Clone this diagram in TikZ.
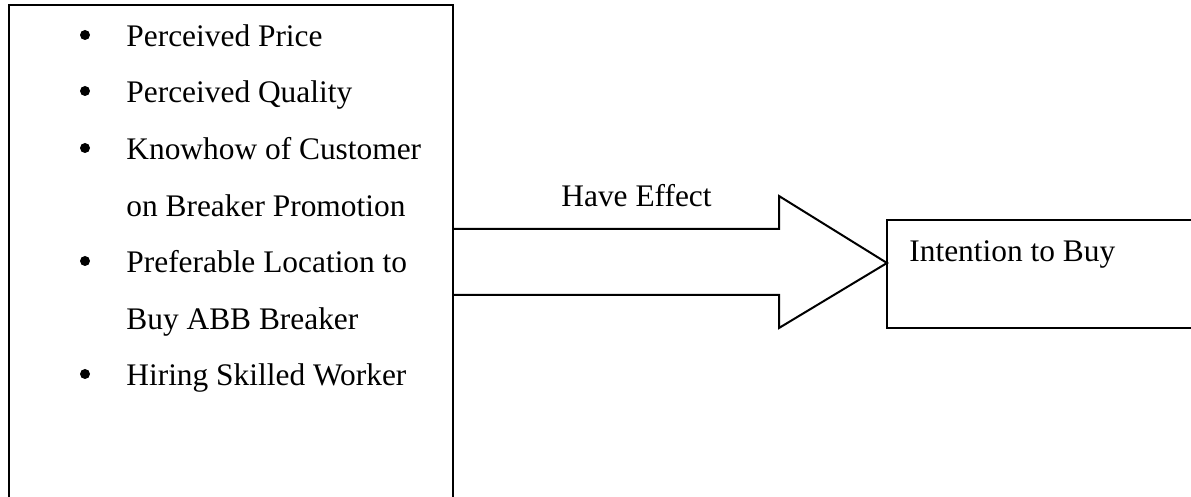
\documentclass[tikz,border=0pt]{standalone}
\usepackage{fontspec}
\setmainfont{Liberation Serif}
\begin{document}
\begin{tikzpicture}[x=0.5pt,y=-0.5pt,
  txt/.style={anchor=base west,inner sep=0pt,font=\fontsize{15.7}{18}\selectfont},
  dot/.style={circle,fill=black,draw=none,inner sep=0pt,minimum size=5pt},
  boxline/.style={line width=1.2pt,line join=miter},
  arrline/.style={line width=1pt,line join=miter}]
\useasboundingbox (0,0) rectangle (1191,497);
\clip (0,0) rectangle (1191,497);
% left box
\coordinate (lbBL) at (9,520);
\coordinate (lbTL) at (9,5);
\coordinate (lbTR) at (453,5);
\coordinate (lbBR) at (453,520);
\draw[boxline] (lbBL) -- (lbTL) -- (lbTR) -- (lbBR);
% bullets and items
\node[dot] (b1) at (85,35) {};
\node[txt] (t1) at (126,47) {Perceived Price};
\node[dot] (b2) at (85,91) {};
\node[txt] (t2) at (126,103) {Perceived Quality};
\node[dot] (b3) at (85,148) {};
\node[txt] (t3) at (126,160) {Knowhow of Customer};
\node[txt] (t3b) at (126,217) {on Breaker Promotion};
\node[dot] (b4) at (85,261) {};
\node[txt] (t4) at (126,273) {Preferable Location to};
\node[txt] (t4b) at (126,330) {Buy ABB Breaker};
\node[dot] (b5) at (85,374) {};
\node[txt] (t5) at (126,386) {Hiring Skilled Worker};
% block arrow
\coordinate (aS1) at (453,229);
\coordinate (aS2) at (779,229);
\coordinate (aH1) at (779,196);
\coordinate (tip) at (887,263);
\coordinate (aH2) at (779,328);
\coordinate (aS3) at (779,295);
\coordinate (aS4) at (453,295);
\draw[arrline] (aS1) -- (aS2) -- (aH1) -- (tip) -- (aH2) -- (aS3) -- (aS4);
\node[txt] (eff) at (561,207) {Have Effect};
% right box
\coordinate (rbTR) at (1210,220);
\coordinate (rbTL) at (887,220);
\coordinate (rbBL) at (887,328);
\coordinate (rbBR) at (1210,328);
\draw[arrline] (rbTR) -- (rbTL) -- (rbBL) -- (rbBR);
\node[txt] (buy) at (909,262) {Intention to Buy};
\end{tikzpicture}
\end{document}
